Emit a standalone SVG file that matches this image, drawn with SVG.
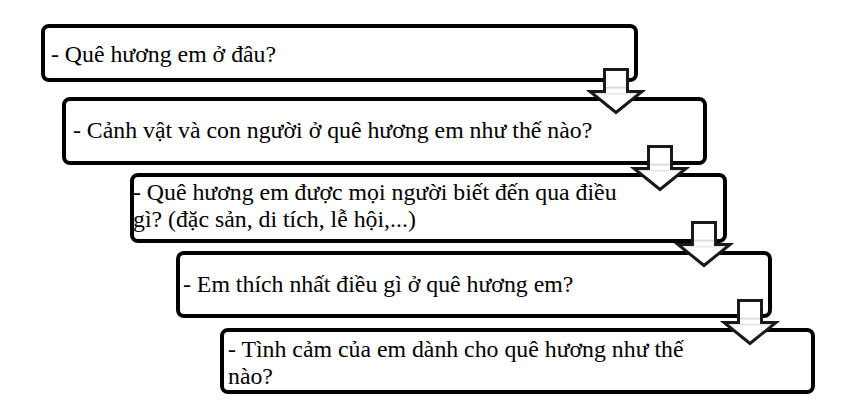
<svg xmlns="http://www.w3.org/2000/svg" width="859" height="401" viewBox="0 0 859 401">
<defs>
<style>
.box{fill:#fff;stroke:#000;stroke-width:4}
.t{font-family:"Liberation Serif","Times New Roman",serif;font-size:23.8px;fill:#000}
.arr{fill:url(#ag);stroke:#1a1a1a;stroke-width:3;stroke-linejoin:miter}
</style>
<linearGradient id="ag" x1="0" y1="0" x2="0" y2="1">
<stop offset="0" stop-color="#fff"/>
<stop offset="0.38" stop-color="#fff"/>
<stop offset="0.42" stop-color="#dcdcdc"/>
<stop offset="0.47" stop-color="#fff"/>
<stop offset="0.53" stop-color="#fff"/>
<stop offset="0.56" stop-color="#e4e4e4"/>
<stop offset="0.6" stop-color="#fff"/>
<stop offset="1" stop-color="#fff"/>
</linearGradient>
<path id="arrow" d="M-11.5,0 L11.5,0 L11.5,22 L26,22 L0,43 L-26,22 L-11.5,22 Z"/>
</defs>
<rect width="859" height="401" fill="#fff"/>
<g id="node1"><rect class="box" x="43" y="26" width="593" height="54" rx="6"/><text class="t" x="51" y="62">- Quê hương em ở đâu?</text></g>
<g id="node2"><rect class="box" x="64" y="99" width="641" height="64" rx="6"/><text class="t" x="73" y="138">- Cảnh vật và con người ở quê hương em như thế nào?</text></g>
<g id="node3"><rect class="box" x="132" y="175" width="593" height="66" rx="6"/><text class="t" x="133" y="199.5">- Quê hương em được mọi người biết đến qua điều<tspan x="133" y="226.5">gì? (đặc sản, di tích, lễ hội,...)</tspan></text></g>
<g id="node4"><rect class="box" x="178" y="253" width="592" height="63" rx="6"/><text class="t" x="183" y="292">- Em thích nhất điều gì ở quê hương em?</text></g>
<g id="node5"><rect class="box" x="222" y="330" width="591" height="62" rx="6"/><text class="t" x="228" y="357">- Tình cảm của em dành cho quê hương như thế<tspan x="228" y="384">nào?</tspan></text></g>
<g id="connectors">
<use href="#arrow" class="arr" transform="translate(616,69.5)"/>
<use href="#arrow" class="arr" transform="translate(660,146.5)"/>
<use href="#arrow" class="arr" transform="translate(704,222.5)"/>
<use href="#arrow" class="arr" transform="translate(750,300.5)"/>
</g>
</svg>
